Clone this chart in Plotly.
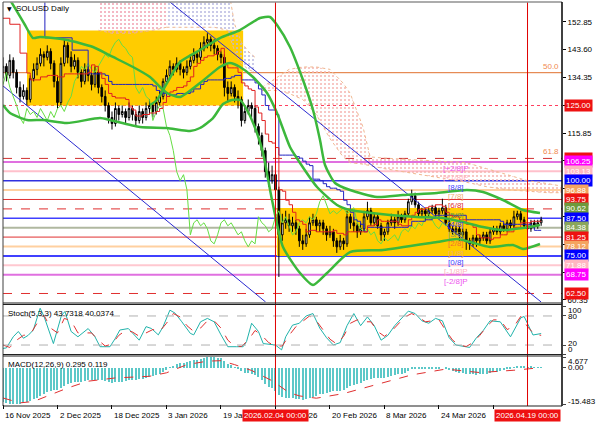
import pandas as pd
import plotly.graph_objects as go

W, H = 596, 425
START = pd.Timestamp("2025-11-16")
FONT = "Liberation Sans"

# ---------------- price data (daily, from 16 Nov 2025) ----------------
opens = [136,138,135,140,136,131,128,130,127,134,137,139,142,141,143,139,133,126,139,145,
         141,138,140,136,133,137,135,132,136,131,128,125,121,119,124,122,123,121,124,122,
         120,123,121,124,125,123,126,128,133,135,138,137,139,137,136,138,140,142,141,144,
         146,147,145,144,142,141,131,129,131,128,127,120,123,125,124,118,115,110,103,100,
         102,97,82,86,87,85,86,84,80,79,82,86,87,85,86,84,82,83,80,78,
         80,79,88,86,85,83,84,88,90,86,88,85,82,83,86,87,86,88,87,89,
         93,95,92,89,90,89,90,91,89,90,91,86,84,83,84,82,83,80,79,81,
         80,81,82,80,83,84,83,85,84,86,85,88,89,87,85,84,86,85,86]
highs = [141,139,142,141,137,133,132,131,135,139,141,144,143,145,144,140,135,141,147,146,
         143,142,141,137,139,138,136,138,137,132,130,126,123,126,125,125,124,126,125,123,
         125,124,126,127,126,128,130,134,137,140,139,141,140,138,140,142,144,143,146,148,
         149,148,147,145,143,142,133,133,132,130,128,125,127,126,125,119,116,111,106,105,
         103,98,89,90,89,88,87,85,82,84,88,89,88,87,87,85,85,84,81,82,
         81,90,89,88,86,86,90,93,91,89,89,86,84,87,89,88,90,89,90,94,
         97,96,93,91,91,91,92,92,91,94,92,87,85,85,85,84,84,81,82,82,
         82,83,83,84,85,85,86,86,87,87,90,90,90,88,86,87,87,87,88]
lows = [134,133,134,134,129,126,127,125,126,133,135,138,138,140,137,131,124,125,138,139,
        136,137,134,131,132,133,130,131,129,126,123,119,117,118,120,121,119,120,120,118,
        119,119,120,122,121,122,125,127,132,134,135,136,135,134,135,137,139,139,140,143,
        144,143,142,140,139,128,126,128,126,124,118,119,122,121,116,112,108,101,98,99,
        95,68,80,84,83,83,82,78,77,78,81,85,83,83,82,80,81,78,76,77,
        77,78,84,83,81,82,83,87,85,85,84,80,80,82,85,84,85,86,86,88,
        92,91,88,88,87,88,89,88,88,89,85,83,82,82,80,81,77,77,78,78,
        79,80,79,79,82,82,82,83,83,84,84,87,86,84,83,83,84,84,85]
closes = [138,135,140,136,131,128,130,127,134,137,139,142,141,143,139,133,126,139,145,141,
          138,140,136,133,137,135,132,136,131,128,125,121,119,124,122,123,121,124,122,120,
          123,121,124,125,123,126,128,133,135,138,137,139,137,136,138,140,142,141,144,146,
          147,145,144,142,141,131,129,131,128,127,120,123,125,124,118,115,110,103,100,102,
          97,82,86,87,85,86,84,80,79,82,86,87,85,86,84,82,83,80,78,80,
          79,88,86,85,83,84,88,90,86,88,85,82,83,86,87,86,88,87,89,93,
          95,92,89,90,89,90,91,89,90,91,86,84,83,84,82,83,80,79,81,80,
          81,82,80,83,84,83,85,84,86,85,88,89,87,85,84,86,85,86,87]

# early Ichimoku lines (their look-back reaches before the visible window)
tenkan_early_days = [0, 2, 5, 7]
tenkan_early_vals = [154, 152, 142.4, 135.8]
kijun_early_days = [0, 12.3, 20.3, 25]
kijun_early_vals = [165, 147.5, 143.4, 143.4]

# ---------------- band lines (day offset, price) ----------------
band1_days = [0,2.06,6.46,8.81,10.86,18.79,26.42,32.30,38.17,43.16,46.10,48.15,51.97,57.84,63.71,66.65,69.58,73.40,77.51,
              80.45,84.26,87.20,92.19,98.06,101.88,105.70,113.62,121.55,129.18,135.06,140.93,146.80,152.67,157.66]
band1_vals = [163,160.06,151.75,147.43,147.76,146.77,144.44,141.12,137.79,134.47,131.14,129.15,127.82,132.47,137.79,139.12,137.79,134.47,129.15,
              122.50,111.20,105.88,97.90,91.92,90.26,89.59,88.59,87.93,87.59,86.26,84.59,83.59,84.26,85.26]
band2_days = [43.16,45.21,48.15,51.97,57.84,63.71,69.58,75.46,78.39,80.45,84.26,88.08,91.02,93.07,94.54,97.47,101.88,
              109.81,117.44,127.42,136.23,140.93,146.80,152.67,157.66]
band2_vals = [125.16,126.82,132.47,139.45,143.44,147.43,150.09,154.08,154.41,151.75,144.44,133.47,123.50,113.53,105.22,99.24,96.91,
              94.58,95.25,95.91,96.91,96.24,93.58,90.26,89.26]
band3_days = [0,2.06,7.05,11.74,18.79,28.48,31.42,40.22,48.15,51.97,54.90,57.84,61.66,64.59,67.23,69.58,71.64,74.57,76.34,78.98,
              82.21,87.20,91.02,95.13,101.88,111.57,127.42,133.29,137.11,142.98,149.74,152.67,157.66]
band3_vals = [125.16,122.50,120.17,120.17,119.17,120.83,120.17,117.84,117.51,116.85,116.51,117.51,120.83,125.49,126.82,126.82,123.50,115.85,109.20,93.58,
              77.95,69.31,65.32,69.31,76.28,76.95,79.61,80.61,79.61,77.95,78.62,77.28,78.95]

# ---------------- Ichimoku cloud segments ----------------
cloud1_days = [28,32,38,44,48]
cloud1_up = [170,170,170,170,170]
cloud1_lo = [150,149,149,150,151]
cloud2_days = [48,55,62,66,68,70,72,74]
cloud2_up = [170,170,170,165,152,146,143,141]
cloud2_lo = [151,151,151,150,143,139,137,136]
cloud3_days = [76,80,84,88,92,96,99.8,101.9,105.7,107.8,112,120,128,136,142,148,154,160,165]
cloud3_up = [131,134,137,137.8,137.8,137,132.5,129.1,117.8,107.9,107.5,107,106.5,106,104,102,100,99,98]
cloud3_lo = [130,130,129,127,122,114,108,106,105.5,105,104,102.5,101,99.5,98,97,96.5,96,96]

# ---------------- levels / objects ----------------
mm_levels = [106.25,103.13,100.00,96.88,93.75,90.62,87.50,84.38,81.25,78.12,75.00,71.88,68.75,62.50]
mm_colors = ['#e070e0','#ffc0cb','#3030e0','#ffd0a0','#e03030','#e03030','#4040ff','#b0b8a0','#e03030','#ffd0a0','#4040ff','#ffc8d0','#e070e0','#e03030']
mm_widths = [2,2,1.5,2,1,1,1.5,2,1,2,2,2,2,1]
mm_dash = ['solid','solid','solid','solid','solid','dash','solid','solid','solid','solid','solid','solid','solid','dash']
mm_tags = ['[+2/8]P','[+1/8]P','[8/8]','[7/8]','[6/8]','[5/8]','[4/8]','[3/8]','[2/8]','[1/8]','[0/8]','[-1/8]P','[-2/8]P']
mm_tag_colors = ['#ee55ee','#ffb0c0','#4040ff','#f0b070','#e03030','#60a040','#4040ff','#80a060','#f07030','#f0b070','#4040ff','#ffb0c0','#ee55ee']
fib_levels = [135.9, 107.4]
fib_tags = ['50.0', '61.8']
level_125 = 125.00

box_vals = [125.00,107.44,106.25,103.13,100.00,96.88,93.75,90.62,87.50,84.38,81.25,78.12,75.00,71.88,68.75,62.50]
box_colors = ['#ee1111','#ee1111','#ff00ff','#ffb6c1','#0000ff','#f4a460','#ee1111','#6e9a3c','#0000ff','#8aa65a','#ee1111','#f4a460','#0000ff','#ffb6c1','#ff00ff','#ee1111']
price_ticks = [152.85,143.60,134.35,125.10,115.85,106.60,97.35,88.10,78.85,69.60,60.35]

zone_days = [(7.05, 70.5), (80.4, 153.9)]
zone_prices = [(125.0, 149.9), (75.0, 90.9)]
trend_days = [(49.0, 158.0), (0.0, 77.1)]
trend_prices = [(159.4, 59.67), (131.5, 59.67)]
vline_days = [80, 154]
vline_labels = ['2026.02.04 00:00', '2026.04.19 00:00']
date_tick_days = [0,16,32,48,64,80,96,112,128,144]
date_tick_text = ['16 Nov 2025','2 Dec 2025','18 Dec 2025','3 Jan 2026','19 Jan 2026','4 Feb 2026',
                  '20 Feb 2026','8 Mar 2026','24 Mar 2026','9 Apr 2026']

# ---------------- Stochastic (5,3,3) ----------------
k_days = [0,1,3,4.5,6,7.4,8.9,10.9,12,14.8,17.2,18.2,20,22,25,27,28.5,31.4,33,34.3,36.8,39,40,42,43.6,45.6,47,49,50.5,52.5,55,56,58,60,62,64,66,68.6,70.5,71.5,73,75,76.4,80,81.8,83,85,87,
          89,91,93,95,97,99,101,103,105,107,109,111,113,115,117,119,121,123,125,127,129,131,133,135,137,139,141,143,146,149,152,153,155.6,158]
k_vals = [13,14,37,48,34,40,51,96,80,23,82,89,48,37,54,37,16.5,16.5,34,51,54,37,30,58,54,41,58,92,86,68,44,41,68,75,68,41,16.5,16.5,16.5,27,65,48,23,20,10,37,61,65,
          80,85,55,35,20,25,60,85,60,78,60,30,40,60,75,90,85,70,65,75,70,35,20,18,15,35,50,70,68,37,76,79,40.7,43.7]
d_days = [0,2,4,6,8,10,12,14,16,18,20,22,24,26,28,30,32,34,36,38,40,42,44,46,48,50,52,54,56,58,60,62,64,66,68,70,72,74,76,78,80,82,84,86,88,90,92,94,96,98,
          100,102,104,106,108,110,112,114,116,118,120,122,124,126,128,130,132,134,136,138,140,142,144,146,148,150,152,154,156,158]
d_vals = [20,15,30,40,42,65,82,55,45,75,70,45,45,45,30,18,22,40,50,47,38,45,52,48,65,85,78,60,48,55,70,70,55,30,18,17,30,50,40,25,18,18,40,58,70,80,70,50,32,22,
          38,65,72,68,68,48,38,48,62,78,85,78,68,70,72,50,30,20,17,25,40,58,72,72,52,58,79,58,42,40.0]

# ---------------- MACD (12,26,9) ----------------
macd_main = [-14.5,-15,-15.3,-15.4,-15.48,-15.3,-15,-14.6,-14,-13.4,
             -12.8,-12,-11.2,-10.4,-9.8,-9.4,-9.3,-8.6,-7.6,-7.0,
             -6.6,-6.2,-6.0,-5.9,-5.6,-5.4,-5.3,-5.0,-5.0,-5.2,
             -5.5,-5.9,-6.3,-6.2,-6.1,-5.9,-5.7,-5.4,-5.2,-5.1,
             -4.9,-4.7,-4.3,-3.9,-3.5,-3.0,-2.4,-1.6,-0.7,0.2,
             0.9,1.5,1.9,2.1,2.4,2.8,3.3,3.6,4.0,4.4,
             4.6,4.68,4.6,4.4,4.1,2.9,1.8,1.1,0.3,-0.4,
             -1.5,-2.0,-2.2,-2.4,-3.2,-4.1,-5.3,-6.8,-8.0,-8.8,
             -9.9,-11.8,-12.4,-12.7,-13.0,-13.1,-13.3,-13.5,-13.7,-13.5,
             -12.9,-12.3,-11.9,-11.4,-11.0,-10.7,-10.3,-10.1,-10.0,-9.7,
             -9.5,-8.5,-7.9,-7.4,-7.0,-6.5,-5.8,-5.0,-4.8,-4.4,
             -4.3,-4.3,-4.2,-3.8,-3.4,-3.1,-2.7,-2.4,-2.0,-1.3,
             -0.6,-0.4,-0.4,-0.3,-0.3,-0.2,-0.1,-0.2,-0.1,0.0,
             -0.6,-1.1,-1.5,-1.7,-2.0,-2.1,-2.5,-2.8,-2.8,-2.9,
             -2.8,-2.6,-2.6,-2.2,-1.8,-1.6,-1.2,-1.0,-0.6,-0.4,
             0.1,0.5,0.6,0.5,0.3,0.4,0.3,0.3,0.295]
sig_days = [0,5,9,19,25,33,43,48,54,60,64,68,73,79,84,87,92,100,110,120,130,140,150,158]
sig_vals = [-12.9,-15,-14.4,-8.6,-5.7,-4.3,-3.6,-2.1,1.4,2.9,3.1,1.4,-1.1,-5.5,-10.6,-12,-13,-11,-7,-3,-0.5,-2,-1,0.119]

# =====================================================================
def at(d):
    return START + pd.Timedelta(days=d)

def ats(ds):
    return [at(d) for d in ds]

def px(x):
    return x / W

def py(y):
    return 1 - y / H

dates = ats(range(len(closes)))
hi_s = pd.Series(highs, dtype=float)
lo_s = pd.Series(lows, dtype=float)
tenkan = (hi_s.rolling(9).max() + lo_s.rolling(9).min()) / 2
kijun = (hi_s.rolling(26).max() + lo_s.rolling(26).min()) / 2

fig = go.Figure()

for cd, cu, cl, col in [(cloud1_days, cloud1_up, cloud1_lo, '#f0a0b0'),
                        (cloud2_days, cloud2_up, cloud2_lo, '#b8b8e0'),
                        (cloud3_days, cloud3_up, cloud3_lo, '#f4b4b0')]:
    fig.add_trace(go.Scatter(x=ats(cd), y=cl, mode='lines',
                             line=dict(color='#f0b890', width=1, dash='dot'), hoverinfo='skip'))
    fig.add_trace(go.Scatter(x=ats(cd), y=cu, mode='lines', fill='tonexty',
                             fillcolor='rgba(0,0,0,0)',
                             fillpattern=dict(shape='.', fgcolor=col, bgcolor='rgba(0,0,0,0)', size=4, solidity=0.2),
                             line=dict(color='#f0b890', width=1, dash='dot'), hoverinfo='skip'))

fig.add_trace(go.Candlestick(x=dates, open=opens, high=highs, low=lows, close=closes,
                             increasing=dict(line=dict(color='black', width=1), fillcolor='white'),
                             decreasing=dict(line=dict(color='black', width=1), fillcolor='black'),
                             whiskerwidth=0, hoverinfo='skip'))

for td, tp in zip(trend_days, trend_prices):
    fig.add_trace(go.Scatter(x=ats(td), y=list(tp), mode='lines',
                             line=dict(color='#2a2ad0', width=1), hoverinfo='skip'))

fig.add_trace(go.Scatter(x=ats([i - 26 for i in range(len(closes))]), y=closes, mode='lines',
                         line=dict(color='#66dd44', width=1), hoverinfo='skip'))
kj_x = ats(kijun_early_days) + dates[25:]
kj_y = list(kijun_early_vals) + list(kijun[25:])
fig.add_trace(go.Scatter(x=kj_x, y=kj_y, mode='lines', line=dict(color='#2020c0', width=1, shape='hv'), hoverinfo='skip'))
tk_x = ats(tenkan_early_days) + dates[8:]
tk_y = list(tenkan_early_vals) + list(tenkan[8:])
fig.add_trace(go.Scatter(x=tk_x, y=tk_y, mode='lines', line=dict(color='#e02020', width=1, shape='hv'), hoverinfo='skip'))

for bd, bv in [(band1_days, band1_vals), (band2_days, band2_vals), (band3_days, band3_vals)]:
    fig.add_trace(go.Scatter(x=ats(bd), y=bv, mode='lines', line=dict(color='#3cb83c', width=2.5, shape='spline', smoothing=0.6),
                             hoverinfo='skip'))

fig.add_trace(go.Scatter(x=ats(k_days), y=k_vals, mode='lines', line=dict(color='#20b2aa', width=1),
                         xaxis='x2', yaxis='y2', hoverinfo='skip'))
fig.add_trace(go.Scatter(x=ats(d_days), y=d_vals, mode='lines', line=dict(color='#e03030', width=1, dash='dash'),
                         xaxis='x2', yaxis='y2', hoverinfo='skip'))

fig.add_trace(go.Bar(x=dates, y=macd_main, marker=dict(color='#5cc8c8', line=dict(width=0)), width=0.3 * 86400000,
                     xaxis='x3', yaxis='y3', hoverinfo='skip'))
fig.add_trace(go.Scatter(x=ats(sig_days), y=sig_vals, mode='lines', line=dict(color='#e03030', width=1, dash='dash'),
                         xaxis='x3', yaxis='y3', hoverinfo='skip'))

shapes = []
for (d0, d1), (p0, p1) in zip(zone_days, zone_prices):
    shapes.append(dict(type='rect', xref='x', yref='y', x0=at(d0), x1=at(d1), y0=p0, y1=p1,
                       fillcolor='#ffcc00', line=dict(width=0), layer='below'))
for lv, c, w, ds in zip(mm_levels, mm_colors, mm_widths, mm_dash):
    shapes.append(dict(type='line', xref='paper', yref='y', x0=px(3), x1=px(562), y0=lv, y1=lv,
                       line=dict(color=c, width=w, dash=ds), layer='below'))
shapes.append(dict(type='line', xref='paper', yref='y', x0=px(3), x1=px(562), y0=fib_levels[0], y1=fib_levels[0],
                   line=dict(color='#e0702e', width=1), layer='below'))
shapes.append(dict(type='line', xref='paper', yref='y', x0=px(3), x1=px(562), y0=fib_levels[1], y1=fib_levels[1],
                   line=dict(color='#d03030', width=1, dash='dash'), layer='below'))
shapes.append(dict(type='line', xref='paper', yref='y', x0=px(3), x1=px(562), y0=level_125, y1=level_125,
                   line=dict(color='#ff4060', width=1.2, dash='dot'), layer='below'))
for lv in [80, 20]:
    shapes.append(dict(type='line', xref='paper', yref='y2', x0=px(3), x1=px(562), y0=lv, y1=lv,
                       line=dict(color='#b0b0b0', width=1, dash='dash')))
for vd in vline_days:
    shapes.append(dict(type='line', xref='x', yref='paper', x0=at(vd), x1=at(vd), y0=py(406), y1=py(2),
                       line=dict(color='#e00000', width=1)))
shapes.append(dict(type='line', xref='paper', yref='paper', x0=px(3), x1=px(562), y0=py(2), y1=py(2), line=dict(color='#909090', width=1.5)))
shapes.append(dict(type='line', xref='paper', yref='paper', x0=px(3), x1=px(3), y0=py(406), y1=py(2), line=dict(color='#404040', width=1)))
shapes.append(dict(type='line', xref='paper', yref='paper', x0=px(562), x1=px(562), y0=py(406), y1=py(2), line=dict(color='black', width=1.5)))
for yy in [303, 304.5, 354.5, 356, 406]:
    shapes.append(dict(type='line', xref='paper', yref='paper', x0=px(3), x1=px(562), y0=py(yy), y1=py(yy), line=dict(color='#202020', width=1.2)))

ann = []
f8 = dict(family=FONT, size=8, color='black')
ann.append(dict(xref='paper', yref='paper', x=px(5), y=py(8.5), text='▼', showarrow=False, xanchor='left', yanchor='middle',
                font=dict(family='DejaVu Sans', size=6, color='black')))
ann.append(dict(xref='paper', yref='paper', x=px(14), y=py(8.5), text='SOLUSD Daily', showarrow=False, xanchor='left', yanchor='middle', font=f8))
ann.append(dict(xref='paper', yref='paper', x=px(6), y=py(313.5), text='Stoch(5,3,3) 43.7318 40.0374', showarrow=False, xanchor='left', yanchor='middle', font=f8))
ann.append(dict(xref='paper', yref='paper', x=px(6), y=py(364.5), text='MACD(12,26,9) 0.295 0.119', showarrow=False, xanchor='left', yanchor='middle', font=f8))
for t, yy in [('100', 310.5), ('80', 316.5), ('20', 343.5), ('0', 349.5), ('4.677', 361.5), ('0.00', 367), ('-15.483', 401.5)]:
    ann.append(dict(xref='paper', yref='paper', x=px(566), y=py(yy), text=t, showarrow=False, xanchor='left', yanchor='middle', font=f8))
for lv, t, c in zip(mm_levels, mm_tags, mm_tag_colors):
    ann.append(dict(xref='x', yref='y', x=at(133.1), y=lv, text=t, showarrow=False, xanchor='center', yanchor='top',
                    font=dict(family=FONT, size=8, color=c)))
for lv, t in zip(fib_levels, fib_tags):
    ann.append(dict(xref='paper', yref='y', x=px(561), y=lv, text=t, showarrow=False, xanchor='right', yanchor='bottom',
                    font=dict(family=FONT, size=8, color='#f08a50')))
for d, t in zip(date_tick_days, date_tick_text):
    ann.append(dict(xref='x', yref='paper', x=at(d), y=py(415.5), text=t, showarrow=False, xanchor='left', yanchor='middle', font=f8))
for d, t in zip(vline_days, vline_labels):
    ann.append(dict(xref='x', yref='paper', x=at(d), y=py(415.5), text=t, showarrow=False, xanchor='center', yanchor='middle',
                    font=dict(family=FONT, size=8, color='white'), bgcolor='#ee1111', borderpad=1))
for v, c in zip(box_vals, box_colors):
    ann.append(dict(xref='paper', yref='y', x=px(564), y=v, text=f'{v:.2f}', showarrow=False, xanchor='left', yanchor='middle',
                    font=dict(family=FONT, size=8, color='white'), bgcolor=c, borderpad=1))

xr = [at(0), at(164.12)]
ax_common = dict(showgrid=False, zeroline=False, automargin=False, fixedrange=True)
fig.update_layout(
    template='none',
    width=W, height=H, margin=dict(l=0, r=0, t=0, b=0, pad=0),
    font=dict(family=FONT, size=8, color='black'),
    paper_bgcolor='white', plot_bgcolor='white', showlegend=False,
    xaxis=dict(domain=[px(3), px(562)], range=xr, anchor='y', showticklabels=False, showline=False,
               rangeslider=dict(visible=False), **ax_common),
    xaxis2=dict(domain=[px(3), px(562)], range=xr, anchor='y2', matches='x', showticklabels=False, showline=False, **ax_common),
    xaxis3=dict(domain=[px(3), px(562)], range=xr, anchor='y3', matches='x', showticklabels=False, showline=False,
                ticks='outside', ticklen=4, tickcolor='black', tickmode='array', tickvals=ats(date_tick_days), **ax_common),
    yaxis=dict(domain=[py(302), py(2)], range=[59.67, 159.4], side='right', anchor='x', showline=False,
               tickmode='array', tickvals=price_ticks, ticktext=[f'{v:.2f}' for v in price_ticks],
               ticks='outside', ticklen=3, tickcolor='black', tickfont=f8, **ax_common),
    yaxis2=dict(domain=[py(354.7), py(306.3)], range=[0, 100], side='right', anchor='x2', showline=False,
                showticklabels=False, tickmode='array', tickvals=[0, 20, 80, 100], ticks='outside', ticklen=3, **ax_common),
    yaxis3=dict(domain=[py(404), py(357)], range=[-15.483, 4.677], side='right', anchor='x3', showline=False,
                showticklabels=False, tickmode='array', tickvals=[-15.483, 0, 4.677], ticks='outside', ticklen=3, **ax_common),
    shapes=shapes, annotations=ann, bargap=0,
)
fig.write_html("out.html", config={'displayModeBar': False},
               post_script="document.body.style.margin='0';document.body.style.padding='0';document.body.style.overflow='hidden';")
